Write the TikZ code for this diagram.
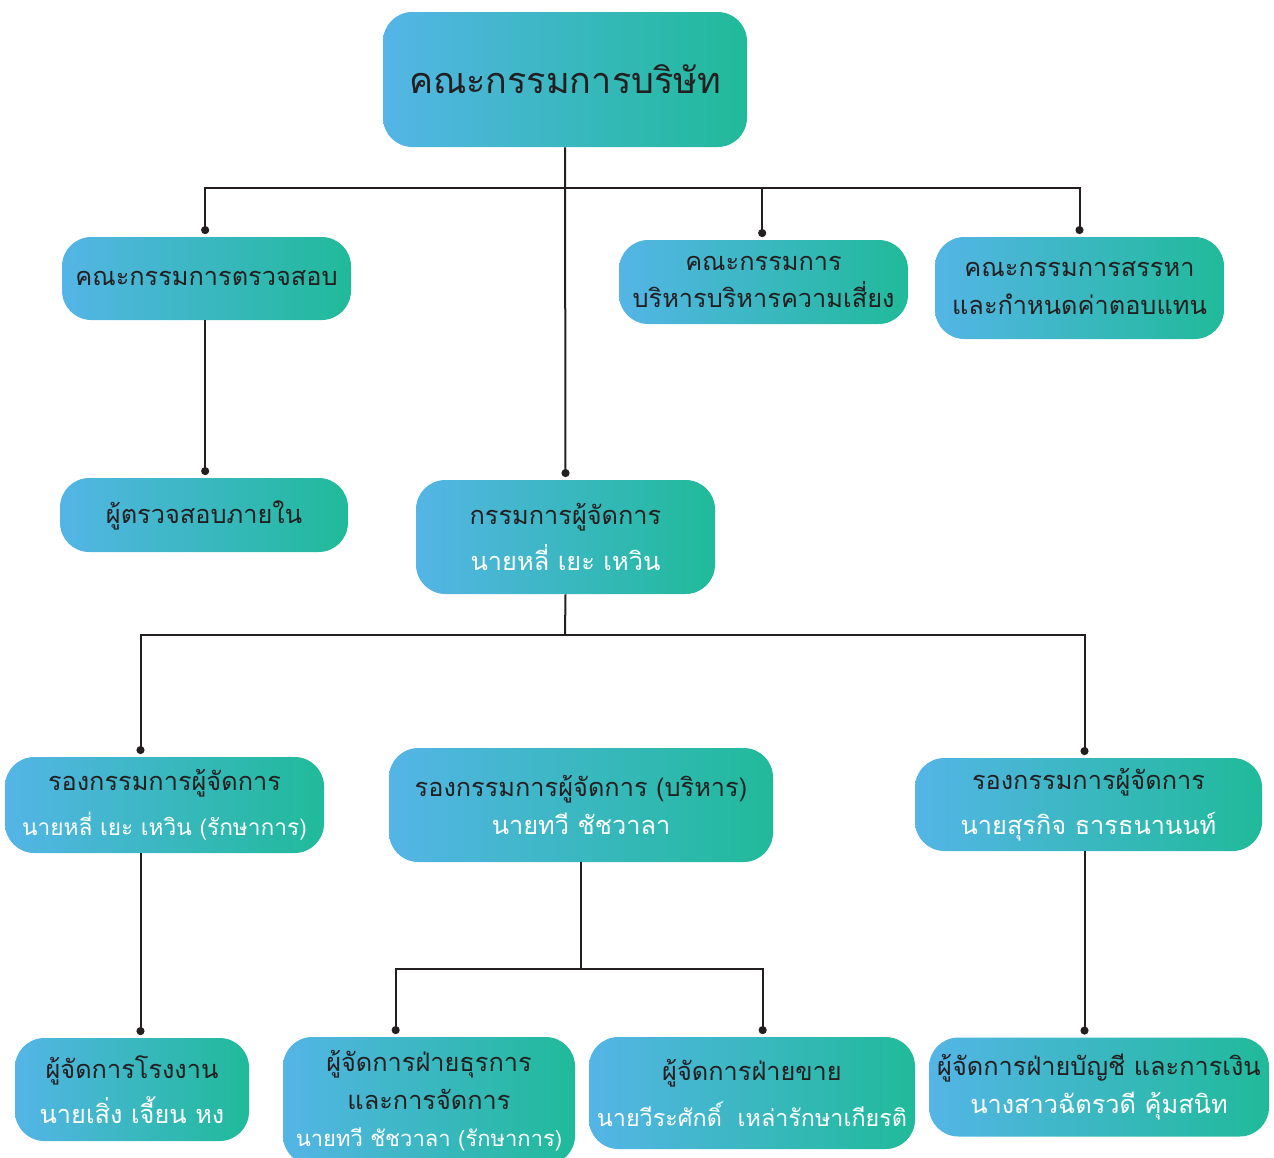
\documentclass[tikz,border=0pt]{standalone}
\usepackage{fontspec}
\setmainfont[Script=Thai]{Loma}
\usetikzlibrary{arrows.meta}
\definecolor{gleft}{RGB}{84,181,230}
\definecolor{gright}{RGB}{32,186,154}
\definecolor{ink}{RGB}{35,31,32}
\newcommand{\who}[2][17]{\textcolor{white}{\fontsize{#1}{28}\selectfont #2}}
\tikzset{
    box/.style n args={2}{rounded corners=22pt,left color=gleft,right color=gright,
      text=ink,align=center,inner sep=0pt,font=\fontsize{19}{28}\selectfont,
      minimum width=0.75*#1pt,minimum height=0.75*#2pt},
    link/.style={line width=1.5pt,draw=ink},
    drop/.style={link,-{Circle[length=6pt,width=6pt]},shorten >=2pt}}
\begin{document}
\begin{tikzpicture}[x=0.75pt,y=-0.75pt]
\useasboundingbox (0,0) rectangle (1274,1157);
\node[box={364}{135},font=\fontsize{27}{30}\selectfont] (board) at (565,79.5) {คณะกรรมการบริษัท};
\node[box={289}{83}] (audit) at (206.5,278.5) {คณะกรรมการตรวจสอบ};
\node[box={289}{84}] (risk) at (763.5,282) {คณะกรรมการ\\บริหารบริหารความเสี่ยง};
\node[box={289}{102}] (nomin) at (1079.5,288) {คณะกรรมการสรรหา\\และกำหนดค่าตอบแทน};
\node[box={288}{74}] (intaud) at (204,515) {ผู้ตรวจสอบภายใน};
\node[box={299}{114}] (md) at (565.5,537) {กรรมการผู้จัดการ\\[6pt]\who[19]{นายหลี่ เยะ เหวิน}};
\node[box={319}{96}] (depa) at (164.5,805) {รองกรรมการผู้จัดการ\\[6pt]\who{นายหลี่ เยะ เหวิน (รักษาการ)}};
\node[box={384}{114}] (depb) at (581,805) {รองกรรมการผู้จัดการ (บริหาร)\\\who[19]{นายทวี ชัชวาลา}};
\node[box={347}{93}] (depc) at (1088.5,804.5) {รองกรรมการผู้จัดการ\\[6pt]\who[19]{นายสุรกิจ ธารธนานนท์}};
\node[box={234}{103}] (plant) at (132,1089.5) {ผู้จัดการโรงงาน\\[6pt]\who[19]{นายเสิ่ง เจี้ยน หง}};
\node[box={292}{128}] (admin) at (429,1101) {ผู้จัดการฝ่ายธุรการ\\และการจัดการ\\\who[16.5]{นายทวี ชัชวาลา (รักษาการ)}};
\node[box={326}{112}] (sales) at (752,1093) {ผู้จัดการฝ่ายขาย\\[6pt]\who[17.5]{นายวีระศักดิ์ ~เหล่ารักษาเกียรติ}};
\node[box={340}{99}] (acct) at (1099,1087) {ผู้จัดการฝ่ายบัญชี และการเงิน\\\who[19]{นางสาวฉัตรวดี คุ้มสนิท}};
\coordinate (busa) at (565,188);
\coordinate (busb) at (565,635);
\coordinate (busc) at (581,969);
\draw[drop] (board.south) -- (md.north);
\draw[drop] (busa) -| ([xshift=-1pt]audit.north);
\draw[drop] (busa) -| ([xshift=-1pt]risk.north);
\draw[drop] (busa) -| (nomin.north);
\draw[drop] ([xshift=-1pt]audit.south) -- ([xshift=-1pt]audit.south |- intaud.north);
\draw[link] (md.south) -- (busb);
\draw[drop] (busb) -| ([xshift=-18pt]depa.north);
\draw[drop] (busb) -| ([xshift=-3pt]depc.north);
\draw[drop] ([xshift=-18pt]depa.south) -- ([xshift=-18pt]depa.south |- plant.north);
\draw[link] (depb.south) -- (busc);
\draw[drop] (busc) -| ([xshift=-25pt]admin.north);
\draw[drop] (busc) -| ([xshift=8pt]sales.north);
\draw[drop] ([xshift=-3pt]depc.south) -- ([xshift=-3pt]depc.south |- acct.north);
\end{tikzpicture}
\end{document}
